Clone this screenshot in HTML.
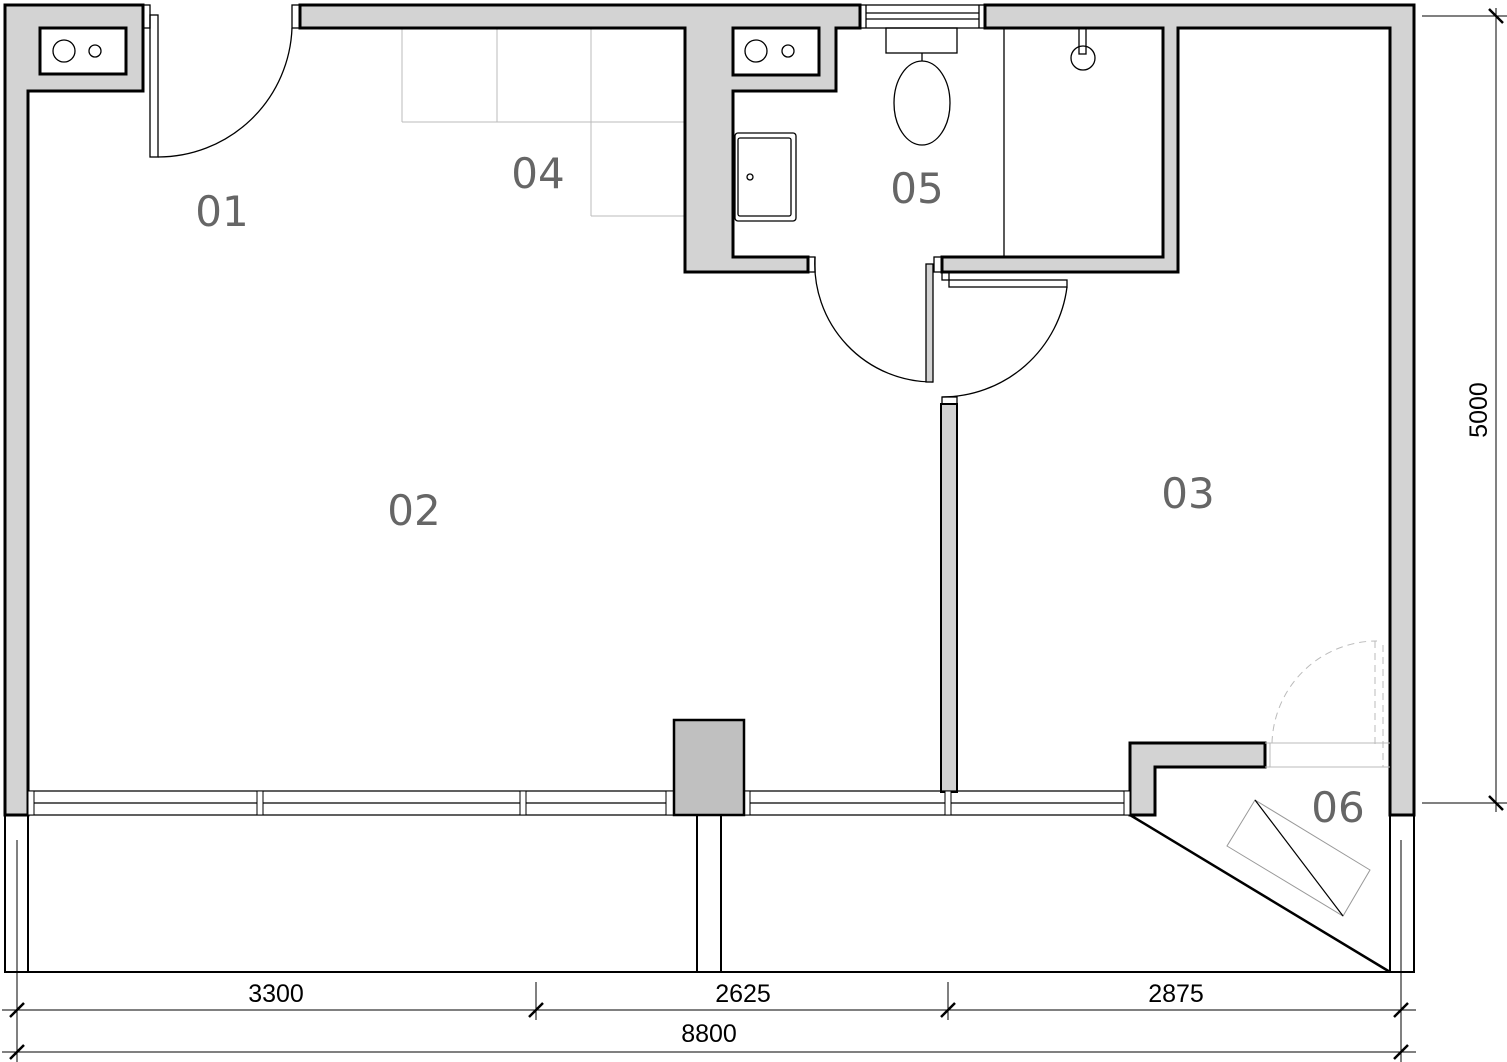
<!DOCTYPE html>
<html><head><meta charset="utf-8"><style>body{margin:0;background:#fff}svg{display:block}</style></head><body>
<svg width="1507" height="1062" viewBox="0 0 1507 1062" xmlns="http://www.w3.org/2000/svg">
<g fill="none" stroke="#bbb" stroke-width="1">
<line x1="402" y1="122" x2="685" y2="122"/><line x1="402" y1="28" x2="402" y2="122"/><line x1="497" y1="28" x2="497" y2="122"/>
<line x1="591" y1="28" x2="591" y2="216"/><line x1="591" y1="216" x2="685" y2="216"/>
</g>
<g stroke="#000" stroke-width="3" fill="#d3d3d3">
<path d="M5 5 H143 V91 H28 V815 H5 Z"/>
<path d="M300 5 H860 V28 H836 V91 H733 V257 H808 V272 H685 V28 H300 Z"/>
<path d="M985 5 H1414 V815 H1390 V28 H1178 V272 H942 V257 H1163 V28 H985 Z"/>
<path d="M1130 743 H1265 V767 H1155 V815 H1130 Z"/>
</g>
<g stroke="#000" stroke-width="3" fill="#fff">
<rect x="40" y="28" width="86" height="46"/><rect x="733" y="28" width="86" height="47"/>
</g>
<g stroke="#000" stroke-width="1.3" fill="none">
<circle cx="64" cy="51" r="11"/><circle cx="95" cy="51" r="6"/>
<circle cx="756" cy="51" r="11"/><circle cx="788" cy="51" r="6"/>
<rect x="143" y="5" width="7" height="23"/><rect x="150" y="15" width="8" height="142"/>
<path d="M158 157 A134 134 0 0 0 292 28"/><rect x="292" y="5" width="8" height="23"/>
<rect x="860" y="5" width="125" height="23"/><line x1="866" y1="5" x2="866" y2="28"/><line x1="979" y1="5" x2="979" y2="28"/>
<line x1="866" y1="13" x2="979" y2="13"/><line x1="866" y1="19" x2="979" y2="19"/>
<line x1="1004" y1="28" x2="1004" y2="257"/>
<rect x="886" y="28" width="71" height="25"/><line x1="922" y1="53" x2="922" y2="61"/>
<ellipse cx="922" cy="103" rx="28" ry="42"/>
<rect x="1079" y="28" width="7" height="26"/><circle cx="1083" cy="58" r="12"/>
<rect x="735" y="133" width="61" height="88" rx="3"/><rect x="738" y="138" width="53" height="78" rx="2"/><circle cx="750" cy="177" r="3"/>
<path d="M815 257 A118 118 0 0 0 933 382"/>
<rect x="926" y="264" width="7" height="118" fill="#d3d3d3"/>
<rect x="808" y="257" width="7" height="15"/><rect x="934" y="257" width="8" height="15"/>
<rect x="942" y="272" width="7" height="8"/><rect x="949" y="280" width="118" height="7"/>
<path d="M1067 287 A126 126 0 0 1 942 397"/>
<rect x="942" y="397" width="15" height="8"/>
</g>
<rect x="941" y="404" width="16" height="388" fill="#d3d3d3" stroke="#000" stroke-width="2"/>
<g stroke="#000" stroke-width="1.3" fill="none">
<line x1="28" y1="791" x2="1130" y2="791"/><line x1="28" y1="803" x2="1130" y2="803"/><line x1="28" y1="815" x2="1130" y2="815"/>
</g>
<g stroke="#000" stroke-width="1" fill="#fff">
<rect x="28" y="791" width="6" height="24"/><rect x="257" y="791" width="6" height="24"/><rect x="520" y="791" width="6" height="24"/><rect x="666" y="791" width="8" height="24"/><rect x="744" y="791" width="6" height="24"/><rect x="945" y="791" width="6" height="24"/><rect x="1124" y="791" width="6" height="24"/>
</g>
<rect x="674" y="720" width="70" height="95" fill="#c0c0c0" stroke="#000" stroke-width="2.5"/>
<g stroke="#000" stroke-width="2" fill="none">
<path d="M5 815 V972 H1414 V815"/><line x1="28" y1="815" x2="28" y2="972"/><line x1="1390" y1="815" x2="1390" y2="972"/>
<line x1="697" y1="815" x2="697" y2="972"/><line x1="721" y1="815" x2="721" y2="972"/>
<line x1="1130" y1="815" x2="1390" y2="972" stroke-width="2.5"/>
</g>
<g stroke="#bbb" stroke-width="1" fill="none">
<line x1="1265" y1="743" x2="1390" y2="743"/><line x1="1265" y1="767" x2="1390" y2="767"/><line x1="1270" y1="743" x2="1270" y2="767"/>
<path d="M1272 743 A105 105 0 0 1 1377 641" stroke-dasharray="7 5"/>
<line x1="1375" y1="641" x2="1375" y2="745" stroke-dasharray="7 5"/><line x1="1383" y1="645" x2="1383" y2="767" stroke-dasharray="7 5"/>
<polygon points="1255,800 1370,870 1343,916 1227,846" stroke="#999"/>
</g>
<line x1="1255" y1="800" x2="1343" y2="916" stroke="#000" stroke-width="1.2"/>
<g stroke="#000" stroke-width="1" fill="none">
<line x1="17" y1="840" x2="17" y2="1062"/><line x1="1401" y1="840" x2="1401" y2="1062"/>
<line x1="536" y1="982" x2="536" y2="1020"/><line x1="948" y1="982" x2="948" y2="1020"/>
<line x1="2" y1="1010" x2="1416" y2="1010"/><line x1="2" y1="1052" x2="1416" y2="1052"/>
<line x1="1422" y1="16" x2="1507" y2="16"/><line x1="1422" y1="803" x2="1507" y2="803"/>
<line x1="1496" y1="8" x2="1496" y2="812"/>
</g>
<g stroke="#000" stroke-width="2.5">
<line x1="10" y1="1017" x2="24" y2="1003"/><line x1="529" y1="1017" x2="543" y2="1003"/><line x1="941" y1="1017" x2="955" y2="1003"/><line x1="1394" y1="1017" x2="1408" y2="1003"/>
<line x1="10" y1="1059" x2="24" y2="1045"/><line x1="1394" y1="1059" x2="1408" y2="1045"/>
<line x1="1489" y1="9" x2="1503" y2="23"/><line x1="1489" y1="796" x2="1503" y2="810"/>
</g>
<g font-family="Liberation Sans, sans-serif" font-size="25" fill="#000" text-anchor="middle">
<text x="276" y="1002">3300</text><text x="743" y="1002">2625</text><text x="1176" y="1002">2875</text><text x="709" y="1042">8800</text>
<text transform="translate(1487,410) rotate(-90)">5000</text>
</g>
<g font-family="DejaVu Sans, Liberation Sans, sans-serif" font-size="42" fill="#666" text-anchor="middle">
<text x="222" y="226">01</text><text x="538" y="188">04</text><text x="917" y="203">05</text>
<text x="414" y="525">02</text><text x="1188" y="508">03</text><text x="1338" y="822">06</text>
</g>
</svg>
</body></html>
